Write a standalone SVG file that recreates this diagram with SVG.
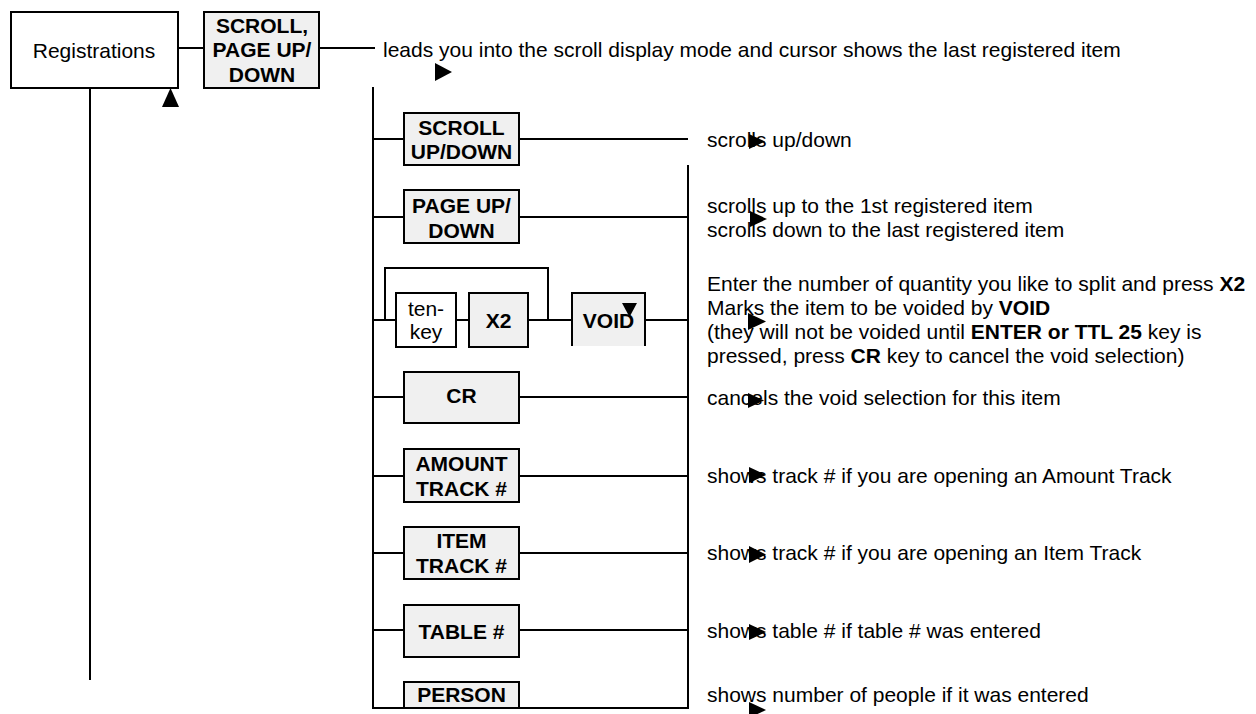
<svg xmlns="http://www.w3.org/2000/svg" width="1256" height="714" viewBox="0 0 1256 714">
<style>
text{font-family:"Liberation Sans",Arial,sans-serif;font-size:21px;fill:#000}
.b{font-weight:bold}
.k{fill:#f0f0f0;stroke:#000;stroke-width:2}
.w{fill:#fff;stroke:#000;stroke-width:2}
.c{text-anchor:middle}
.ln{fill:none;stroke:#000;stroke-width:2}
.tri{fill:#000}
</style>
<rect width="1256" height="714" fill="#fff"/>
<g id="connectors" class="ln">
<path d="M178,48 H204 M319,48 H375"/>
<path d="M90,88 V680"/>
<path d="M373,87 V708 H688 V165"/>
<path d="M373,139 H404 M519,139 H688"/>
<path d="M373,217 H404 M519,217 H688"/>
<path d="M373,320 H396 M456,320 H469 M528,320 H572 M645,320 H688"/>
<path d="M385,320 V268 H548 V320"/>
<path d="M373,397 H404 M519,397 H688"/>
<path d="M373,476 H404 M519,476 H688"/>
<path d="M373,553 H404 M519,553 H688"/>
<path d="M373,630 H404 M519,630 H688"/>
</g>
<g id="registrations"><rect class="w" x="11" y="12" width="167" height="76"/><text class="c" x="94" y="58">Registrations</text></g>
<g id="scroll-page"><rect class="k" x="204" y="12" width="115" height="76"/><text class="b c" x="262" y="33">SCROLL,</text><text class="b c" x="262" y="57">PAGE UP/</text><text class="b c" x="262" y="82">DOWN</text></g>
<g id="scroll-updown"><rect class="k" x="404" y="113" width="115" height="52"/><text class="b c" x="461.5" y="135">SCROLL</text><text class="b c" x="461.5" y="159">UP/DOWN</text></g>
<g id="page-updown"><rect class="k" x="404" y="190" width="115" height="53"/><text class="b c" x="461.5" y="213">PAGE UP/</text><text class="b c" x="461.5" y="238">DOWN</text></g>
<g id="tenkey"><rect class="w" x="396" y="293" width="60" height="54"/><text class="c" x="426" y="316">ten-</text><text class="c" x="426" y="339">key</text></g>
<g id="x2"><rect class="k" x="469" y="293" width="59" height="54"/><text class="b c" x="498.5" y="328">X2</text></g>
<g id="void"><rect x="572" y="293" width="73" height="53" fill="#f0f0f0"/><path class="ln" d="M572,346 V293 H645 V346"/><text class="b c" x="608.5" y="328">VOID</text></g>
<g id="cr"><rect class="k" x="404" y="372" width="115" height="51"/><text class="b c" x="461.5" y="403">CR</text></g>
<g id="amount-track"><rect class="k" x="404" y="449" width="115" height="53"/><text class="b c" x="461.5" y="471">AMOUNT</text><text class="b c" x="461.5" y="496">TRACK #</text></g>
<g id="item-track"><rect class="k" x="404" y="527" width="115" height="52"/><text class="b c" x="461.5" y="548">ITEM</text><text class="b c" x="461.5" y="573">TRACK #</text></g>
<g id="table"><rect class="k" x="404" y="605" width="115" height="52"/><text class="b c" x="461.5" y="639">TABLE #</text></g>
<g id="person"><rect class="k" x="404" y="682" width="115" height="26"/><text class="b c" x="461.5" y="702">PERSON</text></g>
<g id="descriptions">
<text x="383" y="57">leads you into the scroll display mode and cursor shows the last registered item</text>
<text x="707" y="147">scrolls up/down</text>
<text x="707" y="213">scrolls up to the 1st registered item</text>
<text x="707" y="237">scrolls down to the last registered item</text>
<text x="707" y="291">Enter the number of quantity you like to split and press <tspan class="b">X2</tspan></text>
<text x="707" y="315">Marks the item to be voided by <tspan class="b">VOID</tspan></text>
<text x="707" y="339">(they will not be voided until <tspan class="b">ENTER or TTL 25</tspan> key is</text>
<text x="707" y="363">pressed, press <tspan class="b">CR</tspan> key to cancel the void selection)</text>
<text x="707" y="405">cancels the void selection for this item</text>
<text x="707" y="483">shows track # if you are opening an Amount Track</text>
<text x="707" y="560">shows track # if you are opening an Item Track</text>
<text x="707" y="638">shows table # if table # was entered</text>
<text x="707" y="702">shows number of people if it was entered</text>
</g>
<g id="markers" class="tri">
<polygon points="162,107 170.5,88 179,107"/>
<polygon points="622,303 637,303 629.5,317"/>
<polygon points="435,63 452,72 435,81"/>
<polygon points="749,134 765,141.5 749,149"/>
<polygon points="750,211 767,219 750,227"/>
<polygon points="748,313 766,321.5 748,330"/>
<polygon points="748,393 764,400.5 748,408"/>
<polygon points="749,467 766,475 749,483"/>
<polygon points="749,546 766,554.5 749,563"/>
<polygon points="749,624 766,632 749,640"/>
<polygon points="749,702 766,710 749,718"/>
</g>
</svg>
